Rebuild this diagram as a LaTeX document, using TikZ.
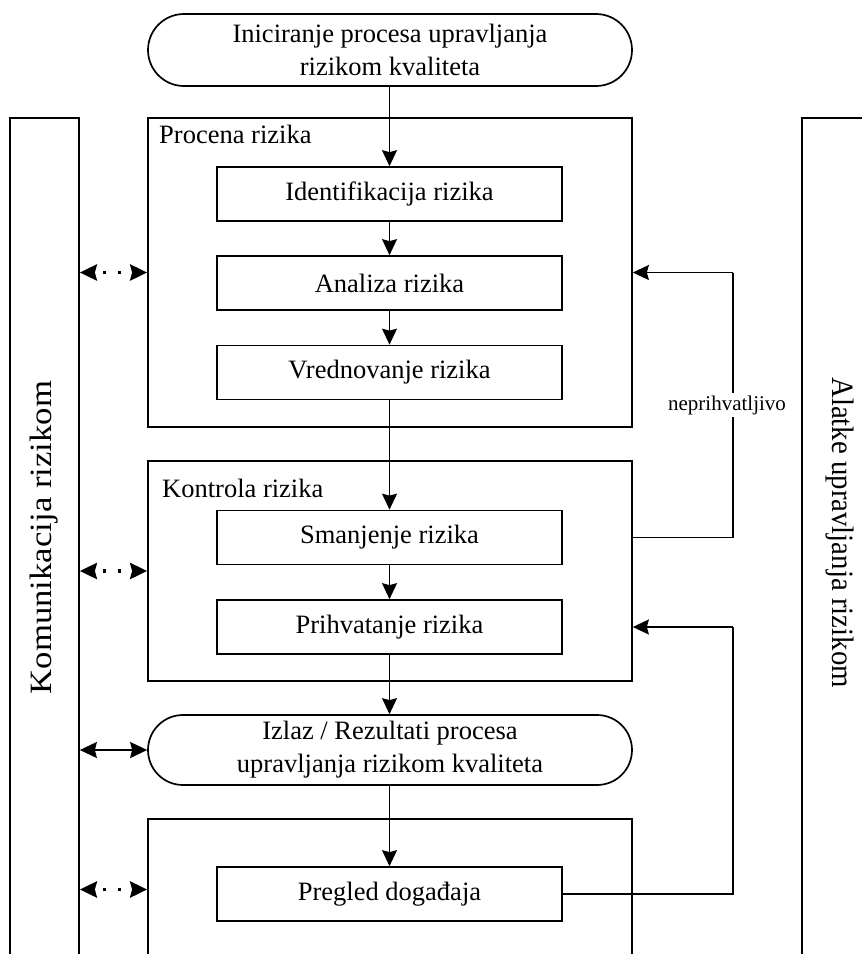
\documentclass[tikz,border=0pt]{standalone}
\usepackage{fontspec}
\setmainfont{Liberation Serif}
\usetikzlibrary{arrows.meta,calc}

\tikzset{
  frame/.style={draw, line width=1.7pt, inner sep=0pt, rectangle},
  stagebox/.style={frame, minimum width=345pt, minimum height=54pt,
    font=\fontsize{26.5}{31}\selectfont},
  groupbox/.style={frame, minimum width=484pt},
  terminal/.style={frame, minimum width=484pt, align=center,
    font=\fontsize{26.5}{33}\selectfont},
  sidebox/.style={frame, minimum height=839pt},
  sidetext/.style={font=\fontsize{31}{36}\selectfont, inner sep=0pt},
  grouplabel/.style={anchor=base west, inner sep=0pt,
    font=\fontsize{26.5}{31}\selectfont},
  arr/.style={line width=1.7pt, -{Stealth[length=16pt, width=15pt, inset=2pt]}},
  twoway/.style={line width=1.7pt,
    {Stealth[length=17pt, width=16pt, inset=2pt]}-{Stealth[length=17pt, width=16pt, inset=2pt]}},
  dottedtwoway/.style={twoway, line width=3.5pt,
    dash pattern=on 3.5pt off 11.5pt, dash phase=6pt},
  flow/.style={line width=1.7pt},
}

\begin{document}
\begin{tikzpicture}[x=1pt, y=-1pt]
  \useasboundingbox (0,0) rectangle (862,954);
  \clip (0,0) rectangle (862,954);

  % side columns
  \node[sidebox, minimum width=69pt] (kom) at (44.5,537.5) {};
  \node[sidetext, rotate=90] (komtext) at (44,537.5)
    {\scalebox{1.12}[1]{Komunikacija rizikom}};
  \node[sidebox, minimum width=76pt] (alat) at (840,537.5) {};
  \node[sidetext, rotate=-90] (alattext) at (840,532.5)
    {\scalebox{0.93}[1]{Alatke upravljanja rizikom}};

  % start / end terminals
  \node[terminal, minimum height=72pt, rounded corners=36pt] (start) at (390,50)
    {Iniciranje procesa upravljanja\\rizikom kvaliteta};
  \node[terminal, minimum height=70pt, rounded corners=35pt] (izlaz) at (390,750)
    {Izlaz / Rezultati procesa\\upravljanja rizikom kvaliteta};

  % group frames
  \node[groupbox, minimum height=309pt] (procena) at (390,272.5) {};
  \node[grouplabel] (procenalbl) at (159,143) {Procena rizika};
  \node[groupbox, minimum height=220pt] (kontrola) at (390,571) {};
  \node[grouplabel] (kontrolalbl) at (162,497) {Kontrola rizika};
  \node[groupbox, minimum height=141pt] (revbox) at (390,889.5) {};

  % process steps
  \node[stagebox] (ident)   at (389.5,194)   {Identifikacija rizika};
  \node[stagebox] (analiza) at (389.5,283)   {Analiza rizika};
  \node[stagebox] (vred)    at (389.5,372.5) {Vrednovanje rizika};
  \node[stagebox] (smanj)   at (389.5,537.5) {Smanjenje rizika};
  \node[stagebox] (prihv)   at (389.5,627)   {Prihvatanje rizika};
  \node[stagebox] (pregled) at (389.5,894)   {Pregled događaja};

  % main flow
  \draw[arr] (start.south -| ident.north) -- (ident.north);
  \draw[arr] (ident) -- (analiza);
  \draw[arr] (analiza) -- (vred);
  \draw[arr] (vred) -- (smanj);
  \draw[arr] (smanj) -- (prihv);
  \draw[arr] (prihv.south) -- (izlaz.north -| prihv.south);
  \draw[arr] (izlaz.south -| pregled.north) -- (pregled.north);

  % feedback loops on the right
  \coordinate (rx) at (733,0);
  \draw[flow] (smanj -| kontrola.east) -- (smanj -| rx)
    -- node[fill=white, inner sep=2pt, xshift=-6pt,
            font=\fontsize{21}{24}\selectfont] (neprih) {neprihvatljivo}
       (procena.east -| rx);
  \draw[arr] (procena.east -| rx) -- (procena.east);
  \draw[flow] (pregled.east) -- (pregled -| rx) -- (prihv -| rx);
  \draw[arr] (prihv -| rx) -- (prihv -| kontrola.east);

  % communication links on the left
  \draw[dottedtwoway] (kom.east |- procena.west) -- (procena.west);
  \draw[dottedtwoway] (kom.east |- kontrola.west) -- (kontrola.west);
  \draw[twoway] (kom.east |- izlaz.west) -- (izlaz.west);
  \draw[dottedtwoway] (kom.east |- revbox.west) -- (revbox.west);
\end{tikzpicture}
\end{document}
